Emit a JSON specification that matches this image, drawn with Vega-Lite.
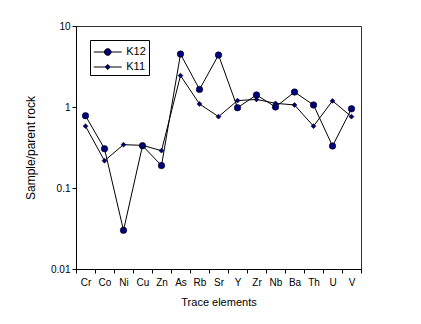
{
  "$schema": "https://vega.github.io/schema/vega-lite/v6.json",
  "width": 285,
  "height": 243,
  "autosize": {"type": "none"},
  "padding": {"left": 76, "top": 26, "right": 60, "bottom": 55},
  "background": "white",
  "config": {
    "font": "Liberation Sans",
    "view": {"stroke": "#333333", "strokeWidth": 1}
  },
  "data": {
    "values": [
      {"el": "Cr", "i": 1, "sample": "K12", "v": 0.78},
      {"el": "Co", "i": 2, "sample": "K12", "v": 0.305},
      {"el": "Ni", "i": 3, "sample": "K12", "v": 0.030},
      {"el": "Cu", "i": 4, "sample": "K12", "v": 0.333},
      {"el": "Zn", "i": 5, "sample": "K12", "v": 0.189},
      {"el": "As", "i": 6, "sample": "K12", "v": 4.5},
      {"el": "Rb", "i": 7, "sample": "K12", "v": 1.65},
      {"el": "Sr", "i": 8, "sample": "K12", "v": 4.38},
      {"el": "Y", "i": 9, "sample": "K12", "v": 0.98},
      {"el": "Zr", "i": 10, "sample": "K12", "v": 1.41},
      {"el": "Nb", "i": 11, "sample": "K12", "v": 1.0},
      {"el": "Ba", "i": 12, "sample": "K12", "v": 1.53},
      {"el": "Th", "i": 13, "sample": "K12", "v": 1.06},
      {"el": "U", "i": 14, "sample": "K12", "v": 0.33},
      {"el": "V", "i": 15, "sample": "K12", "v": 0.95},
      {"el": "Cr", "i": 1, "sample": "K11", "v": 0.58},
      {"el": "Co", "i": 2, "sample": "K11", "v": 0.217},
      {"el": "Ni", "i": 3, "sample": "K11", "v": 0.343},
      {"el": "Cu", "i": 4, "sample": "K11", "v": 0.336},
      {"el": "Zn", "i": 5, "sample": "K11", "v": 0.289},
      {"el": "As", "i": 6, "sample": "K11", "v": 2.44},
      {"el": "Rb", "i": 7, "sample": "K11", "v": 1.09},
      {"el": "Sr", "i": 8, "sample": "K11", "v": 0.76},
      {"el": "Y", "i": 9, "sample": "K11", "v": 1.2},
      {"el": "Zr", "i": 10, "sample": "K11", "v": 1.24},
      {"el": "Nb", "i": 11, "sample": "K11", "v": 1.11},
      {"el": "Ba", "i": 12, "sample": "K11", "v": 1.06},
      {"el": "Th", "i": 13, "sample": "K11", "v": 0.58},
      {"el": "U", "i": 14, "sample": "K11", "v": 1.19},
      {"el": "V", "i": 15, "sample": "K11", "v": 0.76}
    ]
  },
  "encoding": {
    "x": {
      "field": "el",
      "type": "nominal",
      "scale": {"type": "band", "paddingInner": 0, "paddingOuter": 0,
        "domain": ["Cr","Co","Ni","Cu","Zn","As","Rb","Sr","Y","Zr","Nb","Ba","Th","U","V"]},
      "axis": {
        "title": "Trace elements",
        "titleFontSize": 11,
        "titleFontWeight": "normal",
        "titleColor": "black",
        "titlePadding": 9,
        "labelAngle": 0,
        "labelFontSize": 10,
        "labelColor": "black",
        "labelPadding": 4,
        "tickBand": "extent",
        "tickSize": 4,
        "tickColor": "black",
        "domainColor": "black",
        "grid": false
      }
    },
    "y": {
      "field": "v",
      "type": "quantitative",
      "scale": {"type": "log", "domain": [0.01, 10], "nice": false},
      "axis": {
        "title": "Sample/parent rock",
        "titleFontSize": 12,
        "titleFontWeight": "normal",
        "titleColor": "black",
        "titlePadding": 13,
        "values": [0.01, 0.1, 1, 10],
        "format": "~g",
        "labelFontSize": 10,
        "labelColor": "black",
        "labelPadding": 2,
        "tickSize": 4,
        "tickColor": "black",
        "domainColor": "black",
        "grid": false
      }
    }
  },
  "layer": [
    {
      "mark": {"type": "line", "color": "black", "strokeWidth": 1},
      "encoding": {
        "detail": {"field": "sample", "type": "nominal"},
        "order": {"field": "i", "type": "quantitative"}
      }
    },
    {
      "mark": {"type": "point", "filled": true, "fill": "#000080", "stroke": "black", "strokeWidth": 0.6, "opacity": 1},
      "encoding": {
        "shape": {
          "condition": {"test": "datum.sample === 'K12'", "value": "circle"},
          "value": "diamond"
        },
        "size": {
          "condition": {"test": "datum.sample === 'K12'", "value": 42},
          "value": 24
        }
      }
    },
    {
      "transform": [{"filter": "datum.i < 0"}],
      "mark": {"type": "point", "filled": false, "color": "black", "fill": "#000080", "stroke": "black", "strokeWidth": 1, "opacity": 1, "size": 306},
      "encoding": {
        "shape": {
          "field": "sample",
          "type": "nominal",
          "scale": {
            "domain": ["K12", "K11"],
            "range": [
              "M-1.6,0H-0.38M0.38,0H1.6M-0.38,0A0.38,0.38,0,1,0,0.38,0A0.38,0.38,0,1,0,-0.38,0Z",
              "M-1.6,0H-0.29M0.29,0H1.6M-0.29,0L0,-0.29L0.29,0L0,0.29Z"
            ]
          },
          "legend": {
            "title": null,
            "orient": "top-left",
            "offset": 14,
            "padding": 2.5,
            "rowPadding": 0,
            "strokeColor": "black",
            "fillColor": "white",
            "symbolSize": 306,
            "symbolOffset": 5.75,
            "symbolStrokeWidth": 1,
            "symbolOpacity": 1,
            "labelOffset": 9,
            "labelFontSize": 11,
            "labelColor": "black"
          }
        }
      }
    }
  ]
}
